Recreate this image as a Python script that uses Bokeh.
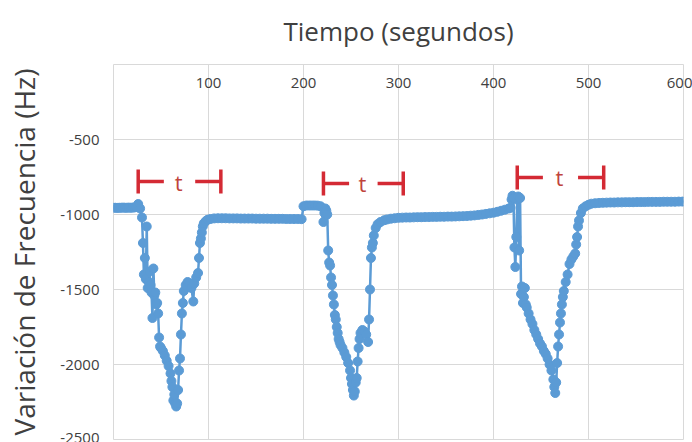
from bokeh.plotting import figure
from bokeh.models import FixedTicker
from bokeh.embed import file_html
from bokeh.resources import INLINE
from bokeh.core.properties import value

# ---- data (time in s, frequency variation in Hz) ----
t_c1 = [0, 2, 4, 6, 8, 10, 12, 14, 16, 18, 20, 22, 24, 26, 28,
        30, 31, 32, 33, 34, 35, 36, 37, 38, 39, 40, 41, 42, 43, 44, 45, 46, 47, 48, 49, 50,
        52, 54, 56, 58, 60,
        61, 62, 63, 64, 65, 66, 67, 68, 69, 70, 71, 72, 73, 74,
        76, 78, 80, 82, 84, 85, 87, 89,
        90, 91, 92, 93, 94, 95, 97, 99, 102,
        106, 110, 114, 118, 122, 126, 130, 134, 138, 142, 146, 150,
        154, 158, 162, 166, 170, 174, 178, 182, 186, 190, 194, 198]
f_c1 = [-955, -955, -956, -955, -955, -954, -955, -955, -954, -955, -954, -953, -950, -930, -960,
        -1020, -1190, -1400, -1290, -1430, -1080, -1490, -1450, -1380, -1470, -1520, -1690, -1360, -1540, -1520, -1600, -1590, -1660, -1820, -1880, -1890,
        -1910, -1940, -1975, -2010, -2060,
        -2110, -2150, -2240, -2200, -2260, -2280, -2260, -2170, -2040, -1960, -1800, -1660, -1590, -1510,
        -1470, -1450, -1460, -1490, -1580, -1460, -1420, -1390,
        -1290, -1190, -1160, -1120, -1080, -1060, -1045, -1035, -1030,
        -1026, -1025, -1025, -1025, -1026, -1026, -1026, -1027, -1027, -1027, -1027, -1028,
        -1028, -1028, -1028, -1029, -1029, -1029, -1029, -1030, -1030, -1030, -1030, -1031]

t_c2 = [200, 203, 206, 209, 212, 215, 218,
        221, 222, 223, 224, 225, 226, 227, 228, 229, 230, 231, 232, 233, 234, 235, 236, 237, 238, 239,
        241, 243, 245, 247, 249,
        250, 251, 252, 253, 254, 255, 256, 257, 258, 259, 260,
        262, 264, 266, 268,
        269, 270, 271, 272, 273, 274,
        276, 278, 281, 285, 288, 292, 296, 300,
        304, 308, 312, 316, 320, 324, 328, 332, 336, 340, 344, 348, 352, 356, 360,
        364, 368, 372, 376, 380, 384, 388, 392, 396, 400, 404, 408, 412, 416, 418]
f_c2 = [-945, -940, -940, -940, -940, -941, -945,
        -1050, -990, -960, -975, -1000, -1240, -1320, -1340, -1420, -1470, -1540, -1600, -1670, -1700, -1750, -1790, -1830, -1850, -1870,
        -1890, -1920, -1950, -1990, -2040,
        -2090, -2130, -2170, -2207, -2180, -2120, -2090, -1980, -1890, -1830, -1790,
        -1770, -1780, -1800, -1850,
        -1700, -1500, -1290, -1220, -1190, -1140,
        -1090, -1065, -1050, -1038, -1033, -1028, -1025, -1022,
        -1021, -1020, -1020, -1019, -1018, -1018, -1017, -1017, -1016, -1016, -1015, -1015, -1014, -1014, -1013,
        -1012, -1011, -1010, -1008, -1006, -1003, -1000, -996, -992, -988, -982, -975, -968, -960, -955]

t_c3 = [419, 420, 421, 422, 423, 424, 425, 426, 427, 428, 429, 430, 431, 432, 433, 434, 435,
        437, 439, 441, 443, 445, 447, 449, 451, 453, 455, 457, 459, 461, 463,
        464, 465, 466, 467, 468, 469, 470, 471, 472, 473, 474,
        476, 478, 480, 482, 484, 486,
        487, 488, 489, 490,
        492, 494, 497, 500, 503,
        507, 511, 515, 519, 523, 527, 531, 535, 539, 543, 547, 551,
        555, 559, 563, 567, 571, 575, 579, 583, 587, 591, 595, 599]
f_c3 = [-900, -875, -890, -1220, -1350, -1150, -900, -880, -1240, -890, -1530, -1480, -1590, -1550, -1490, -1600, -1620,
        -1660, -1700, -1730, -1770, -1800, -1830, -1860, -1880, -1910, -1930, -1960, -2000, -2040, -2100,
        -2150, -2190, -2120, -1990, -1880, -1800, -1720, -1660, -1600, -1550, -1510,
        -1450, -1400, -1330, -1300, -1280, -1260,
        -1200, -1150, -1080, -1040,
        -990, -960, -945, -935, -928,
        -925, -923, -922, -921, -920, -920, -919, -919, -918, -918, -918, -917,
        -917, -917, -916, -916, -916, -916, -915, -915, -915, -915, -914, -914]

x_ticks = [100, 200, 300, 400, 500, 600]
y_ticks = [-2500, -2000, -1500, -1000, -500]

# "t" interval markers (start, end, level)
t_start = [26, 221, 425]
t_end = [113, 305, 516]
t_level = [-780, -793, -753]
t_labels = ["t", "t", "t"]

BLUE = "#5b9bd5"
RED = "#d42a34"
GRID = "#d9d9d9"
TXT = "#404040"

time_s = t_c1 + t_c2 + t_c3
freq_hz = f_c1 + f_c2 + f_c3

p = figure(width=692, height=442, x_range=(0, 600), y_range=(-2500, 0),
           x_axis_location="above", output_backend="svg", toolbar_location=None,
           min_border_left=113, min_border_right=9, min_border_top=64, min_border_bottom=3)

p.outline_line_color = GRID
p.outline_line_width = 1
p.background_fill_color = "white"
p.border_fill_color = "white"

p.xgrid.ticker = FixedTicker(ticks=x_ticks)
p.ygrid.ticker = FixedTicker(ticks=y_ticks)
p.grid.grid_line_color = GRID
p.grid.grid_line_width = 1

xa = p.xaxis[0]
xa.ticker = FixedTicker(ticks=x_ticks)
xa.axis_line_color = None
xa.major_tick_line_color = None
xa.minor_tick_line_color = None
xa.major_tick_out = 0
xa.major_tick_in = 0
xa.major_label_standoff = -23
xa.major_label_text_font = "Open Sans"
xa.major_label_text_font_size = "15px"
xa.major_label_text_color = TXT
xa.axis_label = "Tiempo (segundos)"
xa.axis_label_text_font = "Open Sans"
xa.axis_label_text_font_size = "26px"
xa.axis_label_text_font_style = "normal"
xa.axis_label_text_color = TXT
xa.axis_label_standoff = 26

ya = p.yaxis[0]
ya.ticker = FixedTicker(ticks=y_ticks)
ya.major_label_overrides = {t: str(t) for t in y_ticks}
ya.axis_line_color = None
ya.major_tick_line_color = None
ya.minor_tick_line_color = None
ya.major_tick_out = 0
ya.major_tick_in = 0
ya.major_label_standoff = 14
ya.major_label_text_font = "Open Sans"
ya.major_label_text_font_size = "15px"
ya.major_label_text_color = TXT
ya.axis_label = "Variación de Frecuencia (Hz)"
ya.axis_label_text_font = "Open Sans"
ya.axis_label_text_font_size = "28px"
ya.axis_label_text_font_style = "normal"
ya.axis_label_text_color = TXT
ya.axis_label_standoff = 14

p.line(time_s, freq_hz, line_color=BLUE, line_width=2.5)
p.scatter(time_s, freq_hz, size=9, fill_color=BLUE, line_color=BLUE)

# interval brackets
half = 80
seg_len = 27
p.segment(x0=t_start, y0=[v - half for v in t_level], x1=t_start, y1=[v + half for v in t_level],
          line_color=RED, line_width=3.5)
p.segment(x0=t_end, y0=[v - half for v in t_level], x1=t_end, y1=[v + half for v in t_level],
          line_color=RED, line_width=3.5)
p.segment(x0=t_start, y0=t_level, x1=[s + seg_len for s in t_start], y1=t_level,
          line_color=RED, line_width=3.5)
p.segment(x0=[e - seg_len for e in t_end], y0=t_level, x1=t_end, y1=t_level,
          line_color=RED, line_width=3.5)
p.text(x=[(s + e) / 2 - 1 for s, e in zip(t_start, t_end)], y=t_level, text=t_labels,
       text_align="center", text_baseline="middle", text_font=value("Open Sans"),
       text_font_size="22px", text_color="#c0443c")

open("out.html", "w").write(file_html(p, INLINE))
